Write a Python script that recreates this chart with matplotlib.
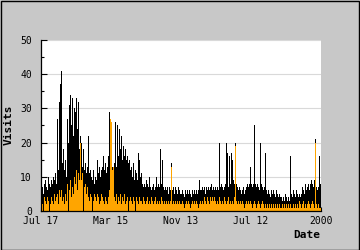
import matplotlib
matplotlib.use("Agg")
import matplotlib.pyplot as plt
import numpy as np
from matplotlib.patches import Rectangle

plt.rcParams.update({
    "font.family": "monospace",
    "font.monospace": ["DejaVu Sans Mono"],
    "font.size": 7,
})

# daily visits (black) and the lower series (orange)
visits = [
    6, 7, 5, 8, 9, 7, 6, 10, 8, 7, 9, 8, 10, 9, 11, 8, 27, 12, 32, 37,
    41, 14, 18, 12, 15, 10, 27, 20, 31, 34, 25, 33, 22, 30, 29, 33, 24, 32, 18, 22,
    20, 13, 18, 12, 14, 11, 13, 22, 11, 12, 10, 9, 12, 8, 10, 9, 15, 11, 13, 10,
    12, 13, 16, 12, 14, 11, 13, 16, 29, 27, 26, 13, 12, 14, 26, 13, 25, 16, 24, 18,
    22, 15, 19, 16, 18, 15, 16, 14, 15, 12, 13, 10, 14, 9, 12, 11, 9, 17, 15, 10,
    11, 8, 7, 8, 7, 9, 8, 7, 10, 7, 6, 7, 8, 6, 7, 10, 7, 8, 7, 18,
    8, 15, 7, 6, 7, 6, 7, 5, 7, 6, 14, 6, 7, 5, 7, 6, 5, 7, 6, 5,
    5, 6, 5, 4, 6, 5, 6, 5, 6, 5, 4, 6, 5, 6, 5, 6, 5, 6, 9, 6,
    6, 7, 6, 7, 5, 7, 6, 7, 6, 7, 8, 6, 7, 6, 7, 6, 7, 6, 20, 7,
    8, 7, 6, 7, 8, 20, 17, 7, 16, 8, 17, 15, 9, 8, 20, 8, 7, 6, 7, 6,
    5, 6, 7, 5, 6, 7, 8, 7, 8, 13, 8, 7, 8, 25, 8, 7, 8, 7, 6, 20,
    8, 7, 6, 7, 17, 6, 5, 6, 5, 4, 6, 5, 6, 5, 4, 6, 5, 4, 5, 4,
    4, 3, 4, 3, 5, 4, 3, 4, 3, 16, 5, 4, 6, 5, 4, 6, 5, 4, 5, 4,
    5, 7, 6, 5, 8, 6, 7, 8, 6, 8, 9, 8, 7, 9, 21, 7, 6, 7, 16, 8,
]
unique_visits = [
    3, 2, 0, 4, 3, 2, 4, 3, 0, 2, 4, 3, 2, 5, 3, 4, 5, 2, 6, 4,
    6, 3, 4, 2, 5, 3, 8, 0, 6, 9, 4, 7, 5, 10, 8, 12, 6, 11, 9, 20,
    9, 11, 0, 7, 8, 5, 7, 4, 3, 5, 4, 0, 3, 5, 4, 3, 5, 4, 2, 3,
    5, 4, 3, 2, 4, 3, 2, 4, 6, 27, 26, 12, 13, 4, 3, 5, 2, 4, 3, 5,
    2, 4, 3, 5, 2, 3, 4, 0, 3, 4, 3, 2, 4, 3, 0, 4, 3, 2, 4, 3,
    3, 2, 4, 3, 2, 3, 4, 2, 3, 2, 4, 3, 2, 3, 4, 2, 3, 2, 3, 2,
    4, 3, 2, 3, 2, 3, 2, 3, 2, 3, 13, 2, 3, 2, 3, 2, 3, 2, 3, 2,
    2, 3, 2, 1, 2, 3, 2, 3, 2, 1, 2, 3, 2, 3, 2, 3, 2, 1, 2, 3,
    2, 3, 2, 4, 3, 2, 4, 3, 2, 4, 3, 4, 3, 4, 3, 2, 3, 2, 4, 3,
    2, 3, 2, 4, 3, 2, 3, 4, 2, 3, 2, 3, 2, 4, 19, 3, 2, 3, 2, 3,
    2, 3, 2, 1, 2, 3, 2, 3, 2, 3, 2, 1, 2, 3, 2, 1, 2, 3, 2, 1,
    2, 3, 2, 1, 2, 1, 2, 1, 2, 1, 2, 1, 2, 1, 2, 1, 2, 1, 2, 1,
    1, 2, 1, 2, 1, 2, 1, 2, 1, 2, 1, 1, 2, 1, 2, 1, 2, 1, 3, 2,
    1, 2, 3, 1, 2, 1, 2, 3, 2, 1, 2, 3, 2, 1, 20, 2, 1, 2, 1, 1,
]
date_labels = ["Jul 17", "Mar 15", "Nov 13", "Jul 12", "2000"]

x = np.arange(len(visits))

fig = plt.figure(figsize=(3.6, 2.5), dpi=100, facecolor="#c8c8c8")
ax = fig.add_axes([41 / 360, 39 / 250, 280 / 360, 171 / 250])
ax.set_facecolor("white")

ax.bar(x, visits, width=1.0, color="black", linewidth=0, zorder=2)
ax.bar(x, unique_visits, width=1.0, color="#ffa500", linewidth=0, zorder=3)

ax.set_xlim(-0.5, len(visits) - 0.5)
ax.set_ylim(0, 50)
ax.set_yticks(np.arange(0, 51, 10))
ax.set_yticks(np.arange(5, 50, 10), minor=True)
ax.set_xticks(np.linspace(-0.5, len(visits) - 0.5, len(date_labels)))
ax.set_xticklabels(date_labels)

ax.grid(axis="y", color="#d9d9d9", linewidth=0.8, zorder=1)
ax.set_axisbelow(True)
for side in ("top", "right"):
    ax.spines[side].set_visible(False)
for side in ("left", "bottom"):
    ax.spines[side].set_color("black")
    ax.spines[side].set_linewidth(0.9)
    ax.spines[side].set_zorder(5)

ax.tick_params(axis="y", which="major", direction="in", length=4, width=0.8, pad=6.5)
ax.tick_params(axis="y", which="minor", direction="in", length=2.5, width=0.8)
ax.tick_params(axis="x", direction="in", length=3, width=0.8, pad=3.5)
for t in ax.get_xticklines():
    t.set_zorder(6)

fig.text(9 / 360, 0.5, "Visits", rotation=90, ha="center", va="center",
         fontsize=8, fontweight="bold")
fig.text(320 / 360, 1 - 235 / 250, "Date", ha="right", va="center",
         fontsize=8, fontweight="bold")

fig.patches.append(Rectangle((0.0015, 0.002), 0.997, 0.996, transform=fig.transFigure,
                             fill=False, edgecolor="black", linewidth=1.0))

fig.savefig("out.png", dpi=100, facecolor=fig.get_facecolor())
